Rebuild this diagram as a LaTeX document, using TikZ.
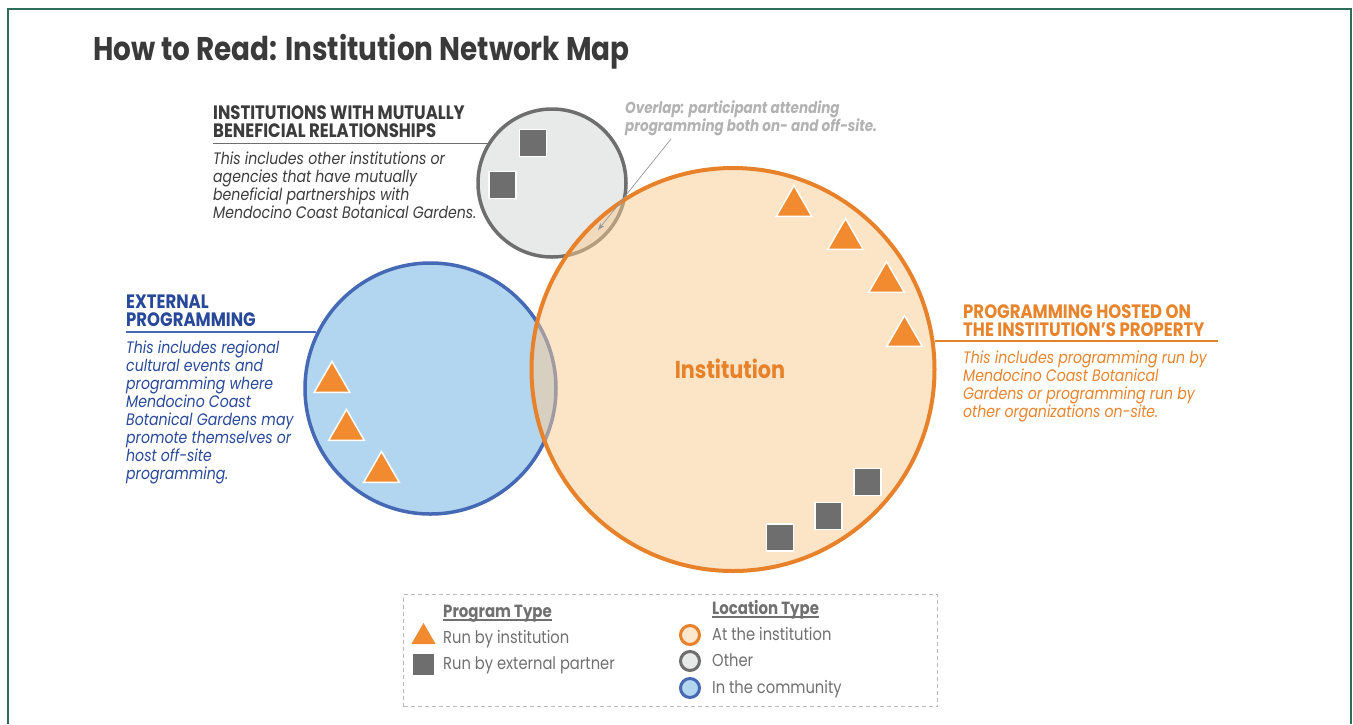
\documentclass[tikz,border=0pt]{standalone}
\usepackage{fontspec}
\setmainfont{Poppins}[FakeStretch=0.85]
\usetikzlibrary{arrows.meta,shapes.geometric,calc}
\definecolor{framegreen}{HTML}{2D6E5A}
\definecolor{titlegray}{HTML}{3A3A3A}
\definecolor{hgray}{HTML}{3C3C3C}
\definecolor{bluetext}{HTML}{28499A}
\definecolor{bluestroke}{HTML}{4569B5}
\definecolor{bluefill}{HTML}{B3D6F0}
\definecolor{orstroke}{HTML}{E8822A}
\definecolor{ortext}{HTML}{E8842C}
\definecolor{orfill}{RGB}{251,203,145}
\definecolor{tric}{HTML}{F28B30}
\definecolor{sqc}{HTML}{6E6E6E}
\definecolor{graystroke}{HTML}{6E6E6E}
\definecolor{grayfill}{HTML}{E8E9E9}
\definecolor{ovtext}{HTML}{B2B2B2}
\definecolor{legdash}{HTML}{B8B8B8}
\definecolor{legtext}{HTML}{707070}
\begin{document}
\begin{tikzpicture}[x=1pt,y=-1pt,
  hdr/.style={font=\bfseries\fontsize{19.4}{18}\selectfont, align=left, inner sep=0pt, anchor=base west},
  bodytxt/.style={font=\itshape\fontsize{16.6}{18}\selectfont, align=left, inner sep=0pt, anchor=base west},
  tri/.style={regular polygon, regular polygon sides=3, fill=tric, draw=white, line width=1.5pt, minimum size=41pt, inner sep=0pt},
  sq/.style={rectangle, fill=sqc, draw=white, line width=1.5pt, minimum size=27pt, inner sep=0pt},
  legtri/.style={regular polygon, regular polygon sides=3, fill=tric, minimum size=28pt, inner sep=0pt},
  legsq/.style={rectangle, fill=sqc, minimum size=21pt, inner sep=0pt},
  legcirc/.style={circle, line width=3pt, minimum size=19pt, inner sep=0pt},
  legtxt/.style={font=\fontsize{17.3}{20}\selectfont, text=legtext, inner sep=0pt, anchor=base west},
  leghd/.style={font=\bfseries\fontsize{17.6}{20}\selectfont, text=legtext, inner sep=0pt, anchor=base west}
]
\useasboundingbox (0,0) rectangle (1353,724);
\fill[white] (0,0) rectangle (1353,724);
\draw[framegreen, line width=2pt] (8,724) -- (8,9) -- (1351,9) -- (1351,724);

% title
\node[font=\bfseries\fontsize{32.8}{36}\selectfont, text=titlegray, inner sep=0pt, anchor=base west] (title) at (93,60) {How to Read: Institution Network Map};

% circles
\node[circle, draw=graystroke, fill=grayfill, line width=3.5pt, minimum size=148pt, inner sep=0pt] (gc) at (552,183) {};
\node[circle, draw=bluestroke, fill=bluefill, line width=3.5pt, minimum size=251pt, inner sep=0pt] (bc) at (430.5,388.5) {};
\node[circle, draw=orstroke, fill=orfill, fill opacity=0.5, draw opacity=1, line width=4pt, minimum size=403pt, inner sep=0pt] (oc) at (733,369.5) {};

\node[font=\bfseries\fontsize{24.4}{28}\selectfont, text=orstroke, inner sep=0pt] (inst) at (730,369) {Institution};

% gray squares
\node[sq] (gs1) at (533,143) {};
\node[sq] (gs2) at (502.5,185) {};
% orange squares
\node[sq] (os1) at (780,537.5) {};
\node[sq] (os2) at (828.5,516) {};
\node[sq] (os3) at (867.5,482) {};
% triangles in institution
\node[tri] (ot1) at (794,206) {};
\node[tri] (ot2) at (845.5,239) {};
\node[tri] (ot3) at (886.5,282) {};
\node[tri] (ot4) at (904.5,336) {};
% triangles in community
\node[tri] (bt1) at (332,382) {};
\node[tri] (bt2) at (346.5,430) {};
\node[tri] (bt3) at (381.5,472) {};

% gray label (base = last line)
\node[hdr, text=hgray] (ghd) at (213,137) {INSTITUTIONS WITH MUTUALLY\\BENEFICIAL RELATIONSHIPS};
\coordinate (gl1) at (213,143);
\coordinate (gl2) at (488,143);
\draw[graystroke, line width=1pt] (gl1) -- (gl2);
\node[bodytxt, text=hgray] (gbd) at (213,218) {This includes other institutions or\\agencies that have mutually\\beneficial partnerships with\\Mendocino Coast Botanical Gardens.};

% overlap label
\node[font=\bfseries\itshape\fontsize{15.9}{18}\selectfont, text=ovtext, align=left, inner sep=0pt, anchor=base west] (ov) at (625,131) {Overlap: participant attending\\programming both on- and off-site.};
\coordinate (arS) at (671,139);
\coordinate (arE) at (598,230);
\draw[ovtext!85!black, line width=0.7pt, -{Stealth[length=7pt,width=5pt]}] (arS) -- (arE);

% blue label
\node[hdr, text=bluetext] (bhd) at (126,326) {EXTERNAL\\PROGRAMMING};
\coordinate (bl1) at (126,332);
\coordinate (bl2) at (316,332);
\draw[bluestroke, line width=1.2pt] (bl1) -- (bl2);
\node[bodytxt, text=bluetext] (bbd) at (126,479) {This includes regional\\cultural events and\\programming where\\Mendocino Coast\\Botanical Gardens may\\promote themselves or\\host off-site\\programming.};

% orange label
\node[hdr, text=ortext] (ohd) at (963,336) {PROGRAMMING HOSTED ON\\THE INSTITUTION’S PROPERTY};
\coordinate (ol1) at (935,341);
\coordinate (ol2) at (1218,341);
\draw[orstroke, line width=1.2pt] (ol1) -- (ol2);
\node[bodytxt, text=ortext] (obd) at (963,417) {This includes programming run by\\Mendocino Coast Botanical\\Gardens or programming run by\\other organizations on-site.};

% legend
\node[draw=legdash, dash pattern=on 4pt off 3pt, line width=1.2pt, minimum width=534pt, minimum height=112pt, inner sep=0pt, anchor=north west] (leg) at (403,594) {};
\node[leghd] (pt) at (443,617) {Program Type};
\draw[legtext, line width=1.2pt] ($(pt.base west)+(0,3)$) -- ($(pt.base east)+(0,3)$);
\node[legtri] (lt) at (423.5,637) {};
\node[legtxt] (ltt) at (443,643) {Run by institution};
\node[legsq] (ls) at (423.5,664.5) {};
\node[legtxt] (lst) at (443,669) {Run by external partner};

\node[leghd] (lty) at (712,614) {Location Type};
\draw[legtext, line width=1.2pt] ($(lty.base west)+(0,3)$) -- ($(lty.base east)+(0,3)$);
\node[legcirc, draw=orstroke, fill=orfill!45!white] (lc1) at (690,635) {};
\node[legtxt] (lc1t) at (712,640) {At the institution};
\node[legcirc, draw=graystroke, fill=grayfill] (lc2) at (690,661) {};
\node[legtxt] (lc2t) at (712,666) {Other};
\node[legcirc, draw=bluestroke, fill=bluefill] (lc3) at (690,688) {};
\node[legtxt] (lc3t) at (712,693) {In the community};
\end{tikzpicture}
\end{document}
